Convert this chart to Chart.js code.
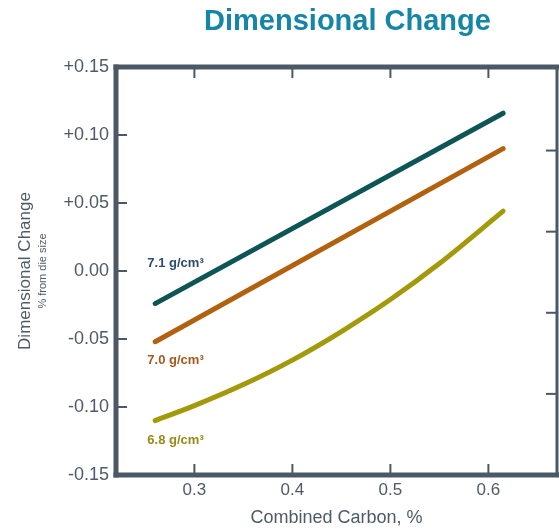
<!DOCTYPE html>
<html>
<head>
<meta charset="utf-8">
<script src="https://cdn.jsdelivr.net/npm/chart.js@4.4.0/dist/chart.umd.min.js"></script>
<style>
html, body { margin: 0; padding: 0; background: #fff; }
</style>
</head>
<body>
<canvas id="chart" width="559" height="529"></canvas>
<script>
// values
var carbonStraight = [0.26, 0.615];
var change71 = [-0.024, 0.116];
var change70 = [-0.052, 0.090];
var carbonCurve = [0.26, 0.30, 0.35, 0.40, 0.45, 0.50, 0.55, 0.615];
var change68 = [-0.110, -0.099, -0.0835, -0.0655, -0.0445, -0.021, 0.0055, 0.044];
var seriesNames = ['7.1 g/cm³', '7.0 g/cm³', '6.8 g/cm³'];
var xTicks = [0.3, 0.4, 0.5, 0.6];
var yTicks = [-0.15, -0.10, -0.05, 0, 0.05, 0.10, 0.15];
var rightTicks = [0, 1, 2, 3, 4, 5];

var lineColors = ['#0e5656', '#b2620f', '#a29a0b'];
var labelColors = ['#2c4d70', '#a9581b', '#978b18'];
var frameColor = '#4b5964';
var textColor = '#4e5b66';
var fontFamily = '"Liberation Sans", Arial, Helvetica, sans-serif';

// where the density labels sit, in data units (x, y of baseline)
var labelAnchors = [[0.252, 0.003], [0.252, -0.0685], [0.252, -0.1274]];

var pairs = function(xs, ys){
	var out = [];
	for (var i = 0; i < xs.length; i++) {
		out.push({x: xs[i], y: ys[i]});
	};
	return out;
};

var dataset = function(i, data, tension){
	return {
		label: seriesNames[i],
		data: data,
		borderColor: lineColors[i],
		backgroundColor: lineColors[i],
		borderWidth: 5,
		borderCapStyle: 'round',
		borderJoinStyle: 'round',
		pointRadius: 0,
		tension: tension,
		cubicInterpolationMode: tension ? 'monotone' : 'default',
		fill: false
	};
};

var setTicks = function(values){
	return function(scale){
		scale.ticks = values.map(function(v){ return {value: v}; });
	};
};

var decor = {
	id: 'decor',
	beforeDatasetsDraw: function(chart){
		var ctx = chart.ctx;
		var a = chart.chartArea;
		var sx = chart.scales.x, sy = chart.scales.y, sr = chart.scales.y2;
		var len = 11;
		var line = function(x1, y1, x2, y2){
			ctx.beginPath();
			ctx.moveTo(x1, y1);
			ctx.lineTo(x2, y2);
			ctx.stroke();
		};
		ctx.save();
		ctx.strokeStyle = frameColor;
		ctx.lineWidth = 2;
		xTicks.forEach(function(v){
			var px = sx.getPixelForValue(v);
			line(px, a.bottom, px, a.bottom - len);
			line(px, a.top, px, a.top + len);
		});
		yTicks.forEach(function(v){
			var py = sy.getPixelForValue(v);
			if (py - a.top < 3 || a.bottom - py < 3) return;
			line(a.left, py, a.left + len, py);
		});
		rightTicks.forEach(function(v){
			var py = sr.getPixelForValue(v);
			if (py - a.top < 3 || a.bottom - py < 3) return;
			line(a.right, py, a.right - len, py);
		});

		// frame
		ctx.lineCap = 'square';
		ctx.lineWidth = 5;
		line(a.left, a.bottom, a.left, a.top);
		line(a.left, a.top, a.right, a.top);
		line(a.left, a.bottom, a.right, a.bottom);
		ctx.lineWidth = 3;
		line(a.right, a.top, a.right, a.bottom);
		ctx.restore();
	},
	afterDraw: function(chart){
		var ctx = chart.ctx;
		var a = chart.chartArea;
		var sx = chart.scales.x, sy = chart.scales.y;
		ctx.save();

		// chart title
		ctx.fillStyle = '#1585a8';
		ctx.font = 'bold 29px ' + fontFamily;
		ctx.textAlign = 'center';
		ctx.textBaseline = 'alphabetic';
		ctx.fillText('Dimensional Change', 347.5, 30);

		// y axis title, two sizes
		var mid = (a.top + a.bottom) / 2;
		ctx.fillStyle = textColor;
		ctx.save();
		ctx.translate(30, mid);
		ctx.rotate(-Math.PI / 2);
		ctx.font = '17px ' + fontFamily;
		ctx.fillText('Dimensional Change', 0, 0);
		ctx.restore();
		ctx.save();
		ctx.translate(46, mid);
		ctx.rotate(-Math.PI / 2);
		ctx.font = '11px ' + fontFamily;
		ctx.fillText('% from die size', 0, 0);
		ctx.restore();

		// density labels
		ctx.textAlign = 'left';
		ctx.font = 'bold 13px ' + fontFamily;
		for (var i = 0; i < seriesNames.length; i++) {
			ctx.fillStyle = labelColors[i];
			ctx.fillText(seriesNames[i], sx.getPixelForValue(labelAnchors[i][0]), sy.getPixelForValue(labelAnchors[i][1]));
		};
		ctx.restore();
	}
};

var chart = new Chart(document.getElementById('chart').getContext('2d'), {
	type: 'line',
	data: {
		datasets: [
			dataset(0, pairs(carbonStraight, change71), 0),
			dataset(1, pairs(carbonStraight, change70), 0),
			dataset(2, pairs(carbonCurve, change68), 0.4)
		]
	},
	options: {
		responsive: false,
		animation: false,
		devicePixelRatio: 1,
		layout: { padding: { top: 67, right: 2, bottom: 0, left: 0 } },
		plugins: {
			legend: { display: false },
			tooltip: { enabled: false }
		},
		scales: {
			x: {
				type: 'linear',
				min: 0.22,
				max: 0.67,
				afterBuildTicks: setTicks(xTicks),
				afterFit: function(s){ s.height = 54; },
				grid: { display: false, drawTicks: false },
				border: { display: false },
				ticks: {
					padding: 5,
					color: textColor,
					font: { family: fontFamily, size: 17 },
					callback: function(v){ return v.toFixed(1); }
				},
				title: {
					display: true,
					text: 'Combined Carbon, %',
					color: textColor,
					font: { family: fontFamily, size: 18 },
					padding: { top: 0, bottom: 0 }
				}
			},
			y: {
				type: 'linear',
				min: -0.15,
				max: 0.15,
				afterBuildTicks: setTicks(yTicks),
				afterFit: function(s){ s.width = 116; },
				grid: { display: false, drawTicks: false },
				border: { display: false },
				ticks: {
					padding: 7,
					color: textColor,
					font: { family: fontFamily, size: 18 },
					callback: function(v){
						if (Math.abs(v) < 1e-9) return '0.00';
						return (v > 0 ? '+' : '') + v.toFixed(2);
					}
				}
			},
			y2: {
				type: 'linear',
				position: 'right',
				min: 0,
				max: 5.03,
				afterBuildTicks: setTicks(rightTicks),
				afterFit: function(s){ s.width = 0; },
				grid: { display: false, drawTicks: false },
				border: { display: false },
				ticks: { display: false }
			}
		}
	},
	plugins: [decor]
});
</script>
</body>
</html>
